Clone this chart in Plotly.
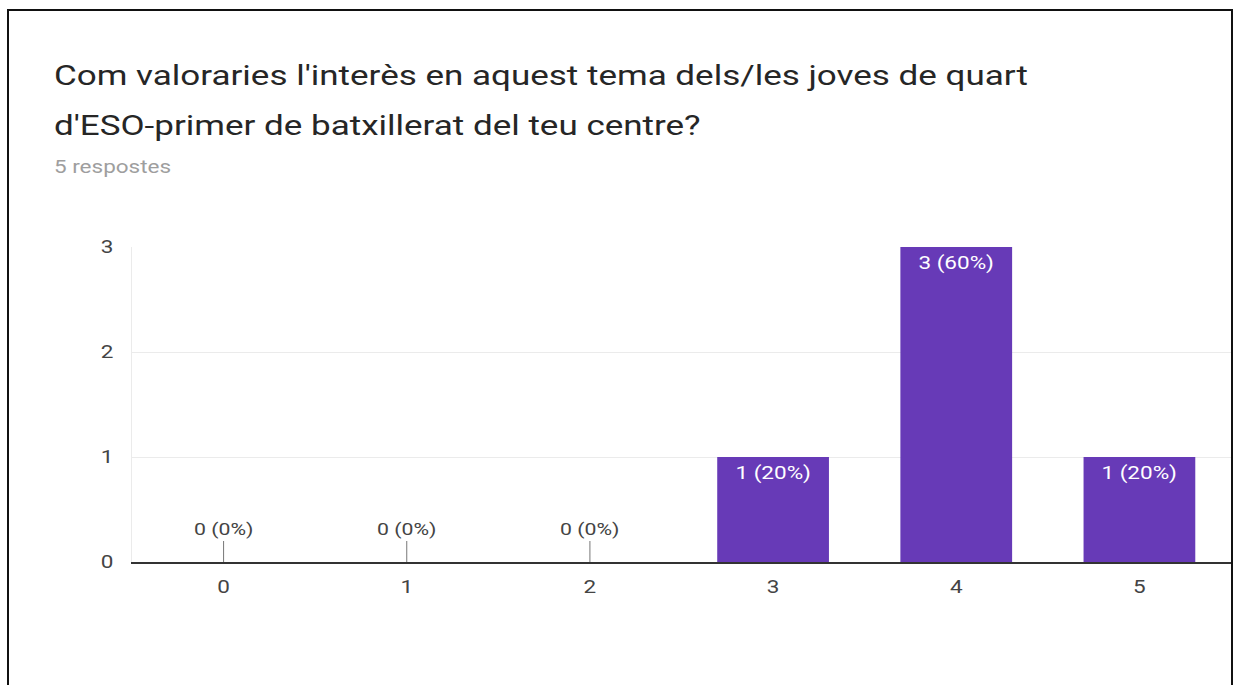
import plotly.graph_objects as go

categories = ["0", "1", "2", "3", "4", "5"]
counts = [0, 0, 0, 1, 3, 1]
total_responses = 5
title_lines = ["Com valoraries l'interès en aquest tema dels/les joves de quart",
               "d'ESO-primer de batxillerat del teu centre?"]
subtitle = "5 respostes"
y_ticks = [0, 1, 2, 3]

W, H = 1233, 685
L, R, T, B = 132, 1231, 247, 562  # plot area in pixels


def px(x):
    return (x - L) / (R - L)


def py(y):
    return (B - y) / (B - T)


labels = [f"{c} ({round(100 * c / total_responses)}%)" for c in counts]
FONT = "Roboto, Arial, sans-serif"
PURPLE = "#673ab7"

fig = go.Figure()
fig.add_trace(go.Bar(
    x=categories, y=counts,
    marker=dict(color=PURPLE, line=dict(width=0)),
    width=0.61,
    cliponaxis=False,
    hoverinfo="skip",
))

annotations = []
for cat, c, lab in zip(categories, counts, labels):
    if c == 0:
        annotations.append(dict(
            x=cat, y=c, xref="x", yref="y", text=lab,
            showarrow=True, arrowhead=0, arrowwidth=1, arrowcolor="#777",
            ax=0, ay=-21, standoff=0, startstandoff=0,
            font=dict(size=17, color="#444", family=FONT),
            yanchor="bottom",
        ))
    else:
        annotations.append(dict(
            x=cat, y=c, xref="x", yref="y", text=lab,
            showarrow=False, yanchor="top", yshift=-3,
            font=dict(size=18, color="white", family=FONT),
        ))

annotations.append(dict(x=px(52), y=py(76), xref="paper", yref="paper", align="left",
                        text=title_lines[0], showarrow=False, xanchor="left", yanchor="middle",
                        font=dict(size=28, color="#262626", family=FONT)))
annotations.append(dict(x=px(52), y=py(125), xref="paper", yref="paper", align="left",
                        text=title_lines[1], showarrow=False, xanchor="left", yanchor="middle",
                        font=dict(size=28, color="#262626", family=FONT)))
annotations.append(dict(x=px(52), y=py(166), xref="paper", yref="paper", align="left",
                        text=subtitle, showarrow=False, xanchor="left", yanchor="middle",
                        font=dict(size=18, color="#9e9e9e", family=FONT)))

shapes = [
    dict(type="line", xref="paper", yref="paper", x0=px(8), x1=px(1232), y0=py(10), y1=py(10),
         line=dict(color="#111", width=2)),
    dict(type="line", xref="paper", yref="paper", x0=px(8), x1=px(8), y0=py(9), y1=py(690),
         line=dict(color="#111", width=2)),
    dict(type="line", xref="paper", yref="paper", x0=px(1232), x1=px(1232), y0=py(9), y1=py(690),
         line=dict(color="#111", width=2)),
]

fig.update_layout(
    width=W, height=H,
    margin=dict(l=L, r=W - R, t=T, b=H - B, pad=0),
    paper_bgcolor="white", plot_bgcolor="white",
    showlegend=False,
    annotations=annotations,
    shapes=shapes,
    font=dict(family=FONT),
)
fig.update_xaxes(
    type="category", range=[-0.5, 5.5],
    showgrid=False, showline=True, linecolor="#333", linewidth=1.5,
    ticks="", tickfont=dict(size=18, color="#444", family=FONT),
    ticklabelstandoff=8, zeroline=False, fixedrange=True,
)
fig.update_yaxes(
    range=[0, 3], tickvals=y_ticks, ticktext=[str(v) for v in y_ticks],
    showgrid=True, gridcolor="#ebebeb", gridwidth=1,
    showline=True, linecolor="#ebebeb", linewidth=1,
    zeroline=False, ticks="", tickfont=dict(size=18, color="#444", family=FONT),
    ticklabelstandoff=14, fixedrange=True,
)

# The reference screenshot is horizontally stretched; widen the text glyphs to match.
post = """
var gd = document.getElementById('{plot_id}');
gd.querySelectorAll('svg text').forEach(function(t){
  var x = parseFloat(t.getAttribute('x')) || 0;
  var tr = t.getAttribute('transform') || '';
  t.setAttribute('transform', tr + ' translate(' + x + ',0) scale(1.25,1) translate(' + (-x) + ',0)');
});
"""
fig.write_html("out.html", post_script=post)
